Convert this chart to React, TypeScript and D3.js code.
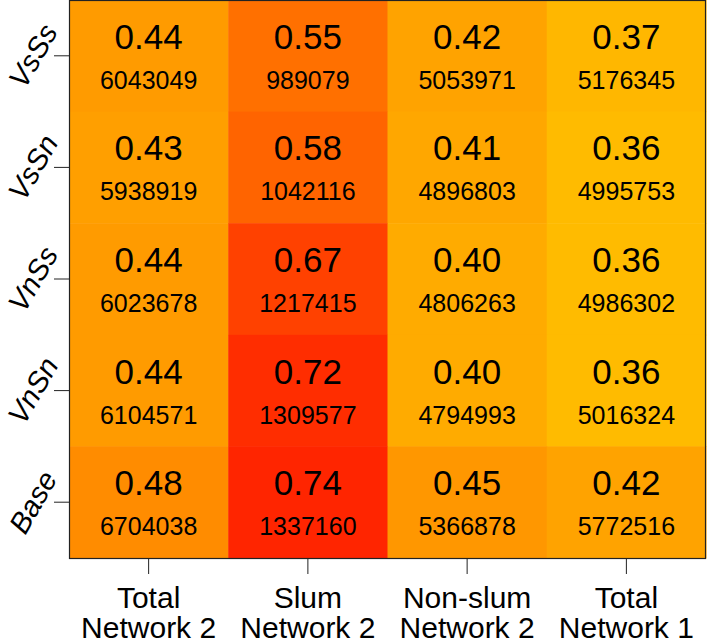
import React, { useEffect, useRef } from "react";
import * as d3 from "d3";

const columns = ["Total\nNetwork 2", "Slum\nNetwork 2", "Non-slum\nNetwork 2", "Total\nNetwork 1"];
const rows = ["VsSs", "VsSn", "VnSs", "VnSn", "Base"];

// ratio per row, columns in order above
const ratios = [
  [0.44, 0.55, 0.42, 0.37],
  [0.43, 0.58, 0.41, 0.36],
  [0.44, 0.67, 0.4, 0.36],
  [0.44, 0.72, 0.4, 0.36],
  [0.48, 0.74, 0.45, 0.42],
];

const counts = [
  [6043049, 989079, 5053971, 5176345],
  [5938919, 1042116, 4896803, 4995753],
  [6023678, 1217415, 4806263, 4986302],
  [6104571, 1309577, 4794993, 5016324],
  [6704038, 1337160, 5366878, 5772516],
];

const W = 707;
const H = 643;

export default function App() {
  const ref = useRef<SVGSVGElement>(null);

  useEffect(() => {
    const svg = d3.select(ref.current);
    svg.selectAll("*").remove();

    const left = 69, right = 706, top = 0, bottom = 558;
    const x = d3.scaleBand().domain(columns).range([left, right]);
    const y = d3.scaleBand().domain(rows).range([top, bottom]);
    const color = d3
      .scaleLinear<string>()
      .domain([0.36, 0.74])
      .range(["#ffbb00", "#ff2500"])
      .interpolate(d3.interpolateRgb);

    const cells = rows.flatMap((r, i) =>
      columns.map((c, j) => ({ r, c, v: ratios[i][j], n: counts[i][j] }))
    );

    const g = svg.append("g");
    g.selectAll("rect")
      .data(cells)
      .join("rect")
      .attr("x", (d) => x(d.c)!)
      .attr("y", (d) => y(d.r)!)
      .attr("width", x.bandwidth() + 0.5)
      .attr("height", y.bandwidth() + 0.5)
      .attr("fill", (d) => color(d.v));

    const font = "Arial, 'Liberation Sans', sans-serif";

    g.selectAll("text.val")
      .data(cells)
      .join("text")
      .attr("class", "val")
      .attr("x", (d) => x(d.c)! + x.bandwidth() / 2)
      .attr("y", (d) => y(d.r)! + y.bandwidth() / 2 - 7)
      .attr("text-anchor", "middle")
      .attr("font-family", font)
      .attr("font-size", 35)
      .text((d) => d.v.toFixed(2));

    g.selectAll("text.cnt")
      .data(cells)
      .join("text")
      .attr("class", "cnt")
      .attr("x", (d) => x(d.c)! + x.bandwidth() / 2)
      .attr("y", (d) => y(d.r)! + y.bandwidth() / 2 + 33)
      .attr("text-anchor", "middle")
      .attr("font-family", font)
      .attr("font-size", 25)
      .text((d) => String(d.n));

    // frame
    svg
      .append("rect")
      .attr("x", left + 0.5)
      .attr("y", top + 0.5)
      .attr("width", right - left - 1)
      .attr("height", bottom - top)
      .attr("fill", "none")
      .attr("stroke", "#222")
      .attr("stroke-width", 1.2);

    // x axis ticks and labels
    const xa = svg.append("g");
    xa.selectAll("line")
      .data(columns)
      .join("line")
      .attr("x1", (d) => x(d)! + x.bandwidth() / 2)
      .attr("x2", (d) => x(d)! + x.bandwidth() / 2)
      .attr("y1", bottom)
      .attr("y2", bottom + 16)
      .attr("stroke", "#222");
    xa.selectAll("text")
      .data(columns)
      .join("text")
      .attr("text-anchor", "middle")
      .attr("font-family", font)
      .attr("font-size", 30)
      .each(function (d) {
        const cx = x(d)! + x.bandwidth() / 2;
        d.split("\n").forEach((line, k) => {
          d3.select(this)
            .append("tspan")
            .attr("x", cx)
            .attr("y", 608 + k * 30)
            .text(line);
        });
      });

    // y axis ticks and labels
    const ya = svg.append("g");
    ya.selectAll("line")
      .data(rows)
      .join("line")
      .attr("x1", left - 15)
      .attr("x2", left)
      .attr("y1", (d) => y(d)! + y.bandwidth() / 2)
      .attr("y2", (d) => y(d)! + y.bandwidth() / 2)
      .attr("stroke", "#222");
    ya.selectAll("text")
      .data(rows)
      .join("text")
      .attr("text-anchor", "middle")
      .attr("dominant-baseline", "central")
      .attr("font-family", font)
      .attr("font-style", "italic")
      .attr("font-size", 29)
      .attr("transform", (d) => `translate(33,${y(d)! + y.bandwidth() / 2}) rotate(-60)`)
      .text((d) => d);
  }, []);

  return (
    <svg
      ref={ref}
      width={W}
      height={H}
      style={{ position: "absolute", left: 0, top: 0, background: "white" }}
    />
  );
}
